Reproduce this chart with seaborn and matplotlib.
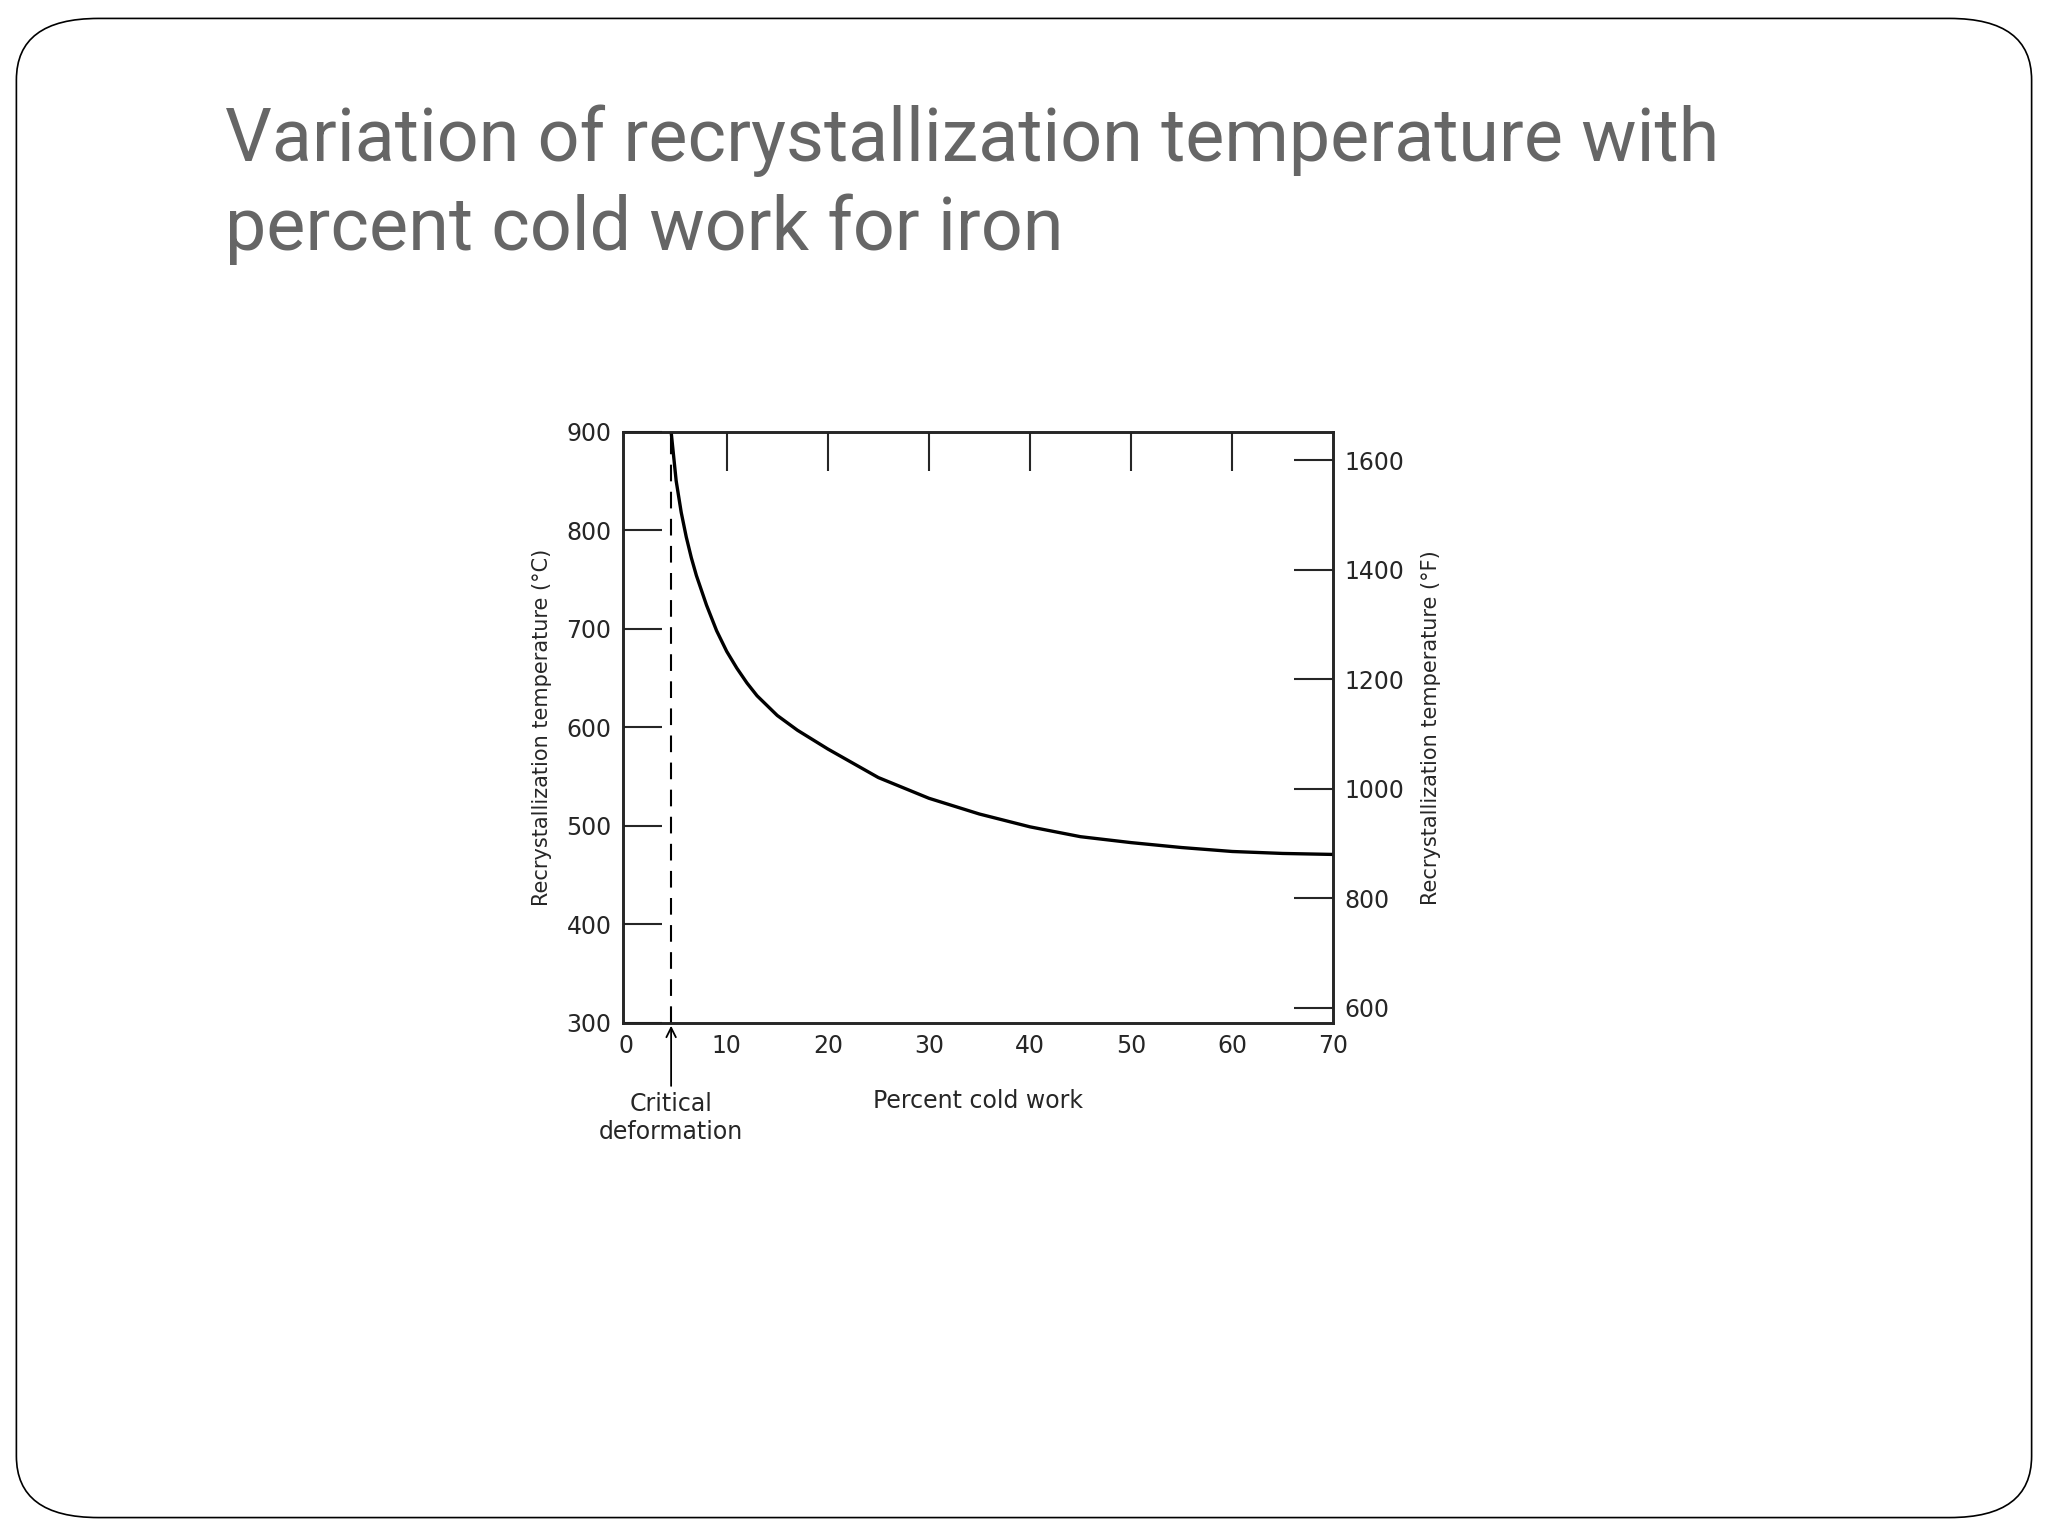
import numpy as np
import seaborn as sns
import matplotlib.pyplot as plt
from matplotlib.patches import FancyBboxPatch

# values
cold_work = [4.5, 4.8, 5, 5.5, 6, 6.5, 7, 8, 9, 10, 11, 12, 13, 15, 17, 20, 25, 30, 35, 40, 45, 50, 55, 60, 65, 70]
temp_c = [900, 870, 850, 818, 793, 772, 754, 724, 698, 677, 660, 645, 632, 612, 597, 578, 549, 528, 512, 499, 489, 483, 478, 474, 472, 471]
critical = 4.5
x_ticks = [0, 10, 20, 30, 40, 50, 60, 70]
c_ticks = [300, 400, 500, 600, 700, 800, 900]
f_ticks = [600, 800, 1000, 1200, 1400, 1600]

sns.set_style("white")
plt.rcParams['font.family'] = ['DejaVu Sans']

fig = plt.figure(figsize=(20.48, 15.36), dpi=100)
fig.patches.append(FancyBboxPatch((0.008, 0.012), 0.984, 0.976, boxstyle="round,pad=0,rounding_size=0.04",
                                  transform=fig.transFigure, fill=False, ec="black", lw=1.2))
fig.text(0.11, 0.932, "Variation of recrystallization temperature with\npercent cold work for iron",
         fontsize=53, color="#666666", family=["Roboto", "DejaVu Sans"], va="top", linespacing=1.3)

ax = fig.add_axes([0.304, 0.334, 0.347, 0.385])
sns.lineplot(x=cold_work, y=temp_c, ax=ax, color="black", lw=2.4)
ax.plot([critical, critical], [300, 900], ls=(0, (8, 5)), color="black", lw=1.5)
ax.set_xlim(-0.3, 70)
ax.set_ylim(300, 900)
ax.set_xticks(x_ticks)
ax.set_yticks(c_ticks)
ax.tick_params(direction="in", length=28, width=1.5, labelsize=17, top=True, labeltop=False, pad=8)
for t in [ax.xaxis.get_major_ticks()[0], ax.xaxis.get_major_ticks()[-1]]:
    t.tick1line.set_visible(False)
    t.tick2line.set_visible(False)
ax.yaxis.get_major_ticks()[0].tick1line.set_visible(False)
ax.yaxis.get_major_ticks()[-1].tick1line.set_visible(False)
for s in ax.spines.values():
    s.set_linewidth(1.8)
    s.set_color("black")
ax.set_ylabel("Recrystallization temperature (°C)", fontsize=15, labelpad=10)
ax.set_xlabel("Percent cold work", fontsize=17, labelpad=22)

ax2 = ax.twinx()
ax2.set_ylim(300 * 9 / 5 + 32, 900 * 9 / 5 + 32)
ax2.set_yticks(f_ticks)
ax2.tick_params(direction="in", length=28, width=1.5, labelsize=17, pad=8)
ax2.set_ylabel("Recrystallization temperature (°F)", fontsize=15, labelpad=12)
for s in ax2.spines.values():
    s.set_linewidth(1.8)

ax.annotate("Critical\ndeformation", xy=(critical, 300), xytext=(critical, 230),
            ha="center", va="top", fontsize=17, annotation_clip=False,
            arrowprops=dict(arrowstyle="->", color="black", lw=1.3))

fig.savefig("out.png", dpi=100)
